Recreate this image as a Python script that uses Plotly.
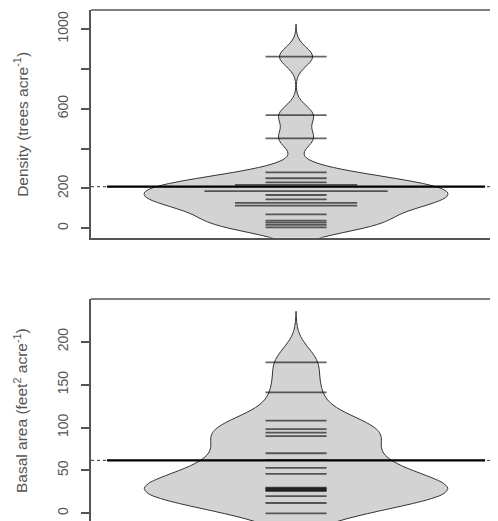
import plotly.graph_objects as go
from collections import Counter

# ---------------- data ----------------
density_values = [861, 568, 451, 281, 251, 230, 218, 218, 187, 187, 187, 167,
                  145, 128, 128, 114, 114, 70, 38, 28, 17, 5]
basal_values = [176, 141, 108, 98, 94, 90, 70, 62, 53, 46, 30, 29, 28, 27, 26,
                20, 12, 0]
density_ticks = [0, 200, 600, 1000]
density_minor_ticks = [400, 800]
basal_ticks = [0, 50, 100, 150, 200]
density_title = "Density (trees acre<sup>-1</sup>)"
basal_title = "Basal area (feet<sup>2</sup> acre<sup>-1</sup>)"

# ---------------- style ----------------
FONT = "Liberation Sans, Arial, sans-serif"
FRAME = "#555555"
TXT = "#555555"
XR = [-1.0, 0.985]
BEAN_WIDTH = 1.48      # full width of bean in x units
LINE_HALF = 0.149      # half length of a single bean line
MEAN_HALF = 0.922

fig = go.Figure()


def add_bean(values, bw, cut, xa, ya):
    lo = min(values) - cut * bw
    hi = max(values) + cut * bw
    fig.add_trace(go.Violin(
        y=values, x0=0, xaxis=xa, yaxis=ya, bandwidth=bw,
        spanmode="manual", span=[lo, hi], points=False,
        box_visible=False, meanline_visible=False,
        fillcolor="#d3d3d3", line=dict(color="#333333", width=1),
        width=BEAN_WIDTH, scalemode="width", opacity=1,
        showlegend=False, hoverinfo="skip"))
    cnt = Counter(values)
    xs, ys = [], []
    for v, c in cnt.items():
        xs += [-LINE_HALF * c, LINE_HALF * c, None]
        ys += [v, v, None]
    mean = sum(values) / len(values)
    fig.add_trace(go.Scatter(x=[XR[0], XR[1]], y=[mean, mean], mode="lines",
                             xaxis=xa, yaxis=ya,
                             line=dict(color="#333333", width=1, dash="dot"),
                             showlegend=False, hoverinfo="skip"))
    fig.add_trace(go.Scatter(x=xs, y=ys, mode="lines", xaxis=xa, yaxis=ya,
                             line=dict(color="rgba(0,0,0,0.6)", width=1.8),
                             showlegend=False, hoverinfo="skip"))
    fig.add_trace(go.Scatter(x=[-MEAN_HALF, MEAN_HALF], y=[mean, mean],
                             mode="lines", xaxis=xa, yaxis=ya,
                             line=dict(color="black", width=2.2),
                             showlegend=False, hoverinfo="skip"))


add_bean(density_values, 48, 3.4, "x", "y")
add_bean(basal_values, 18, 3.3, "x2", "y2")

xcommon = dict(range=XR, showticklabels=False, ticks="", showgrid=False,
               zeroline=False, fixedrange=True, automargin=False)
ycommon = dict(showgrid=False, zeroline=False, showline=True, linecolor=FRAME,
               linewidth=1.5, ticks="outside", ticklen=8, tickwidth=1.5,
               tickcolor=FRAME, tickangle=-90, ticklabelstandoff=8,
               automargin=False,
               tickfont=dict(family=FONT, size=14, color=TXT))

# page body has an 8px margin, so the figure is 8px smaller than the window
fig.update_layout(
    width=490, height=513,
    margin=dict(l=83, r=0, t=2, b=0, pad=0, autoexpand=False),
    paper_bgcolor="white", plot_bgcolor="white",
    showlegend=False,
    xaxis=dict(**xcommon, domain=[0, 1], anchor="y", showline=True,
               linecolor=FRAME, linewidth=1.5),
    yaxis=dict(**ycommon, domain=[0.5544, 1.0], range=[-47.2, 1095.3],
               anchor="x", tickmode="array", tickvals=density_ticks,
               minor=dict(tickmode="array", tickvals=density_minor_ticks,
                          ticks="outside", ticklen=8, tickwidth=1.5,
                          tickcolor=FRAME, showgrid=False)),
    xaxis2=dict(**xcommon, domain=[0, 1], anchor="y2", showline=False),
    yaxis2=dict(**ycommon, domain=[0, 0.4344], range=[-9.0, 249.8],
                anchor="x2", tickmode="array", tickvals=basal_ticks),
    violingap=0, violinmode="overlay",
)

# top frame lines
for xr, yr in (("x domain", "y domain"), ("x2 domain", "y2 domain")):
    fig.add_shape(type="line", xref=xr, yref=yr, x0=0, x1=1, y0=1, y1=1,
                  line=dict(color=FRAME, width=1.5))

# axis titles
for yr, txt in (("y domain", density_title), ("y2 domain", basal_title)):
    fig.add_annotation(text=txt, xref="paper", yref=yr, x=-0.172, y=0.5,
                       xanchor="center", yanchor="middle", textangle=-90,
                       showarrow=False,
                       font=dict(family=FONT, size=15.5, color=TXT))

fig.write_html("out.html")
